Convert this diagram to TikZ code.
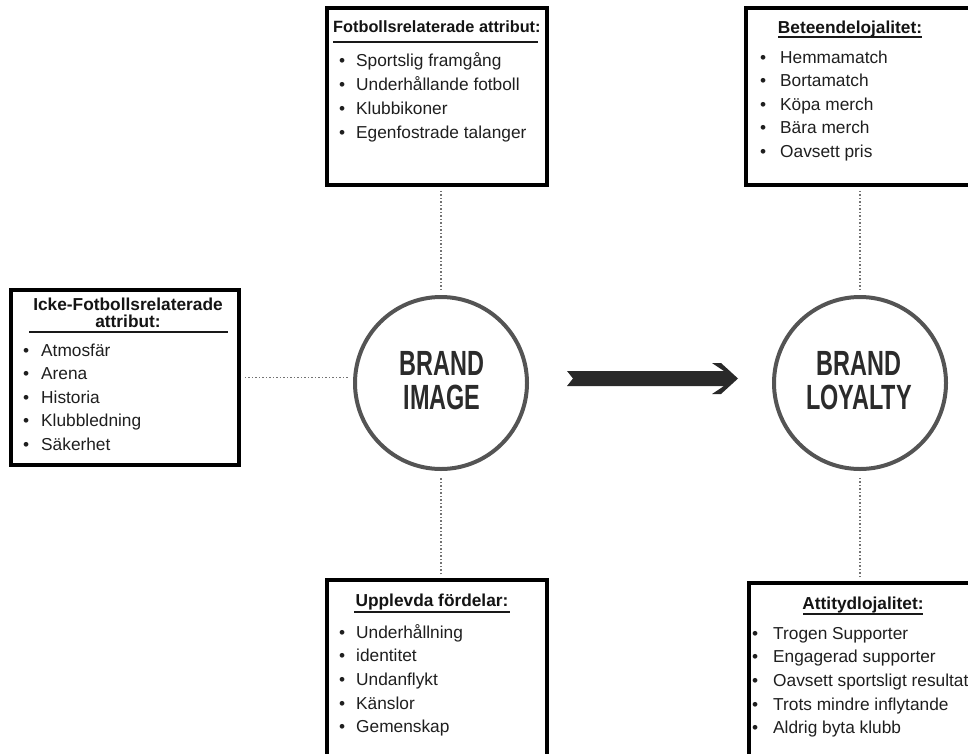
\documentclass[tikz,border=0pt]{standalone}
\usepackage{fontspec}
\usepackage{graphicx}
\setmainfont{Liberation Sans}
\newcommand\bul[1]{\makebox[#1pt][l]{•}}
\begin{document}
\begin{tikzpicture}[x=1pt,y=-1pt,
  box/.style={draw=black, line width=3.5pt, fill=white, inner sep=0pt},
  item/.style={inner sep=0pt, anchor=base west, text=black!88, font=\fontsize{17.3}{20}\selectfont},
  ttl/.style={inner sep=0pt, anchor=base, text=black!92, font=\bfseries\fontsize{17.3}{20}\selectfont},
  ul/.style={line width=2pt, black!90},
  dots/.style={draw=black!55, dotted, line width=1.5pt},
  ring/.style={circle, draw=black!67, line width=4pt, minimum size=172pt, inner sep=0pt},
  big/.style={inner sep=0pt, anchor=base, text=black!83, font=\bfseries\fontsize{35}{35}\selectfont},
  arrowc/.style={fill=black!84}]
\useasboundingbox (0,0) rectangle (968,753);
\clip (0,0) rectangle (968,753);
% boxes
\node[box, minimum width=220pt, minimum height=177pt] (fb) at (437,96.5) {};
\node[box, minimum width=254pt, minimum height=177pt] (tr) at (873,96.5) {};
\node[box, minimum width=228pt, minimum height=175pt] (lb) at (125,377.5) {};
\node[box, minimum width=220pt, minimum height=210pt] (bm) at (437,685) {};
\node[box, minimum width=251pt, minimum height=207pt] (br) at (874.5,686.5) {};
% circles
\node[ring] (bi) at (441,383) {};
\node[ring] (bl) at (860,383) {};
\node[big] (bi1) at (442,375) {\scalebox{0.67}[1]{BRAND}};
\node[big] (bi2) at (442,409) {\scalebox{0.67}[1]{IMAGE}};
\node[big] (bl1) at (859,375) {\scalebox{0.67}[1]{BRAND}};
\node[big] (bl2) at (859,409) {\scalebox{0.67}[1]{LOYALTY}};
% titles
\node[ttl, anchor=base west, font=\bfseries\fontsize{16.3}{20}\selectfont] (fbt) at (333,32) {Fotbollsrelaterade attribut:};
\draw[ul] (333,42) -- (538,42);
\node[ttl] (trt) at (850,33) {Beteendelojalitet:};
\draw[ul, line width=1.8pt] (778,37) -- (922,37);
\node[ttl, font=\bfseries\fontsize{17.3}{20}\selectfont] (lbt1) at (128,310) {Icke-Fotbollsrelaterade};
\node[ttl, font=\bfseries\fontsize{17.3}{20}\selectfont] (lbt2) at (128,327) {attribut:};
\draw[ul] (29,332) -- (228,332);
\node[ttl] (bmt) at (432,606) {Upplevda fördelar:};
\draw[ul] (354,612) -- (510,612);
\node[ttl] (brt) at (863,609) {Attitydlojalitet:};
\draw[ul] (803,614) -- (923,614);
% items
\foreach \t [count=\i] in {Sportslig framgång, Underhållande fotboll, Klubbikoner, Egenfostrade talanger}
  \node[item] (fb-\i) at (339,{66+24.3*(\i-1)}) {\bul{17}\t};
\foreach \t [count=\i] in {Hemmamatch, Bortamatch, Köpa merch, Bära merch, Oavsett pris}
  \node[item] (tr-\i) at (760,{63+23.5*(\i-1)}) {\bul{20}\t};
\foreach \t [count=\i] in {Atmosfär, Arena, Historia, Klubbledning, Säkerhet}
  \node[item] (lb-\i) at (23,{356+23.5*(\i-1)}) {\bul{18}\t};
\foreach \t [count=\i] in {Underhållning, identitet, Undanflykt, Känslor, Gemenskap}
  \node[item] (bm-\i) at (339,{638+23.7*(\i-1)}) {\bul{17}\t};
\foreach \t [count=\i] in {Trogen Supporter, Engagerad supporter, Oavsett sportsligt resultat, Trots mindre inflytande, Aldrig byta klubb}
  \node[item] (br-\i) at (752,{639+23.7*(\i-1)}) {\bul{21}\t};
% dotted connectors
\draw[dots, shorten <=4pt, shorten >=6pt] (fb.south -| bi.north) -- (bi.north);
\draw[dots, shorten <=4pt, shorten >=6pt] (bm.north -| bi.south) -- (bi.south);
\draw[dots, shorten <=4pt, shorten >=5pt] (lb.east) -- (lb.east -| bi.west);
\draw[dots, shorten <=4pt, shorten >=6pt] (tr.south -| bl.north) -- (bl.north);
\draw[dots, shorten <=4pt, shorten >=6pt] (br.north -| bl.south) -- (bl.south);
% big arrow
\coordinate (a0) at (567,378.5);
\fill[arrowc] (a0) ++(0,-7.5) -- ++(157,0) -- ++(-12,-8) -- ++(9,0) -- ++(17,15.5)
  -- ++(-17,15.5) -- ++(-9,0) -- ++(12,-8) -- ++(-157,0) -- ++(6,-7.5) -- cycle;
\end{tikzpicture}
\end{document}
